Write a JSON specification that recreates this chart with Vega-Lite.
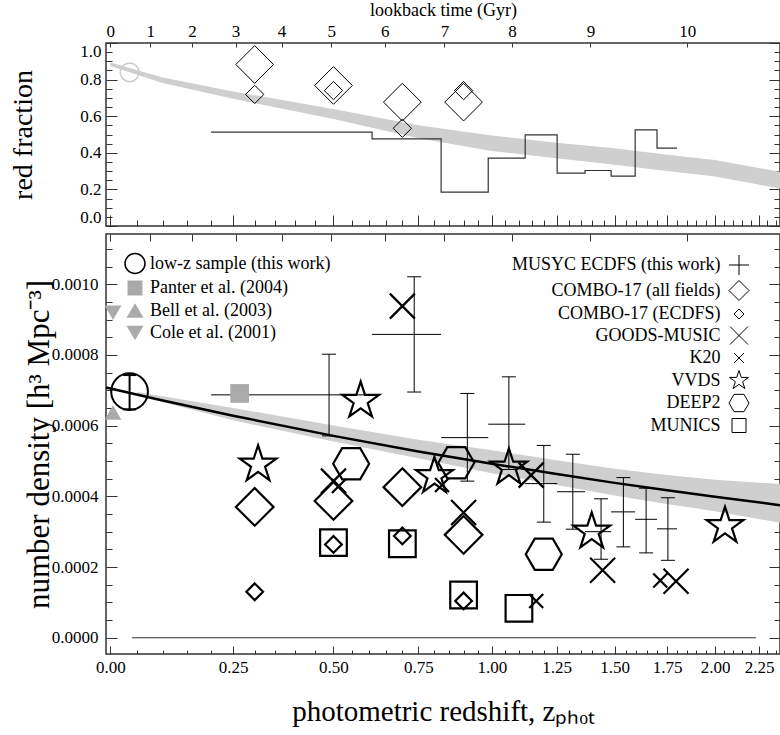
{
  "$schema": "https://vega.github.io/schema/vega-lite/v6.json",
  "background": "white",
  "padding": {"left": 8, "top": 0, "right": 0, "bottom": 0},
  "bounds": "flush",
  "spacing": 8,
  "resolve": {
    "scale": {"shape": "independent", "size": "independent", "fill": "independent", "stroke": "independent"},
    "legend": {"shape": "independent", "fill": "independent", "stroke": "independent"}
  },
  "config": {
    "font": "Liberation Serif",
    "view": {"stroke": "#333333", "strokeWidth": 1.5},
    "axis": {"domain": false, "grid": false, "labelFont": "Liberation Serif", "labelFontSize": 17, "labelColor": "#000000", "tickColor": "#333333", "tickWidth": 1, "titleFont": "Liberation Serif", "titleFontWeight": "normal", "titleColor": "#000000", "labelFlush": false},
    "legend": {"labelFont": "Liberation Serif", "labelFontSize": 18, "labelColor": "#000000", "labelLimit": 400, "symbolSize": 400, "symbolStrokeWidth": 1, "padding": 0, "offset": 0, "rowPadding": 0.5, "titlePadding": 0}
  },
  "datasets": {
    "top_band": [
      {"z": 0, "lo": 0.875, "hi": 0.893},
      {"z": 0.1, "lo": 0.782, "hi": 0.812},
      {"z": 0.25, "lo": 0.695, "hi": 0.735},
      {"z": 0.5, "lo": 0.585, "hi": 0.64},
      {"z": 0.75, "lo": 0.48, "hi": 0.55},
      {"z": 1.0, "lo": 0.41, "hi": 0.495},
      {"z": 1.25, "lo": 0.37, "hi": 0.455},
      {"z": 1.5, "lo": 0.335, "hi": 0.425},
      {"z": 1.75, "lo": 0.3, "hi": 0.39},
      {"z": 2.0, "lo": 0.27, "hi": 0.36},
      {"z": 2.376, "lo": 0.205, "hi": 0.296}
    ],
    "top_step": [
      {"z": 0.201, "f": 0.5126},
      {"z": 0.609, "f": 0.4765},
      {"z": 0.824, "f": 0.1847},
      {"z": 0.987, "f": 0.3705},
      {"z": 1.125, "f": 0.4984},
      {"z": 1.252, "f": 0.2885},
      {"z": 1.369, "f": 0.3033},
      {"z": 1.484, "f": 0.2721},
      {"z": 1.595, "f": 0.5257},
      {"z": 1.7, "f": 0.4251},
      {"z": 1.8, "f": 0.4251}
    ],
    "top_lowz": [{"z": 0.0357, "f": 0.84}],
    "top_combo_all": [
      {"z": 0.3, "f": 0.8825}, {"z": 0.5, "f": 0.768}, {"z": 0.7, "f": 0.677}, {"z": 0.9, "f": 0.677}
    ],
    "top_combo_ecdfs": [
      {"z": 0.3, "f": 0.719}, {"z": 0.5, "f": 0.74}, {"z": 0.7, "f": 0.534}, {"z": 0.9, "f": 0.74}
    ],
    "bot_band": [
      {"z": 0.05, "lo": 0.000685, "hi": 0.000695},
      {"z": 0.25, "lo": 0.000615, "hi": 0.00065},
      {"z": 0.5, "lo": 0.000555, "hi": 0.0006},
      {"z": 0.75, "lo": 0.000508, "hi": 0.00056},
      {"z": 1.0, "lo": 0.000465, "hi": 0.00053},
      {"z": 1.25, "lo": 0.000432, "hi": 0.000502},
      {"z": 1.5, "lo": 0.000402, "hi": 0.000478},
      {"z": 1.75, "lo": 0.000378, "hi": 0.00046},
      {"z": 2.0, "lo": 0.000358, "hi": 0.000447},
      {"z": 2.376, "lo": 0.000325, "hi": 0.000435}
    ],
    "bot_fit": [
      {"z": -0.0078, "n": 0.000708},
      {"z": 0.1, "n": 0.000671},
      {"z": 0.25, "n": 0.000628},
      {"z": 0.5, "n": 0.000571},
      {"z": 0.75, "n": 0.000527},
      {"z": 1.0, "n": 0.000492},
      {"z": 1.25, "n": 0.000463},
      {"z": 1.5, "n": 0.000438},
      {"z": 1.75, "n": 0.000417},
      {"z": 2.0, "n": 0.000399},
      {"z": 2.376, "n": 0.000375}
    ],
    "bot_zero": [{"z1": 0.04, "z2": 2.232, "n": 0}],
    "musyc": [
      {"zlo": 0.201, "zhi": 0.63, "z": 0.488, "n": 0.000687, "lo": 0.000571, "hi": 0.000802},
      {"zlo": 0.609, "zhi": 0.824, "z": 0.737, "n": 0.000858, "lo": 0.000695, "hi": 0.001021},
      {"zlo": 0.824, "zhi": 0.987, "z": 0.913, "n": 0.000566, "lo": 0.000443, "hi": 0.000691},
      {"zlo": 0.987, "zhi": 1.125, "z": 1.063, "n": 0.000604, "lo": 0.000476, "hi": 0.000738},
      {"zlo": 1.125, "zhi": 1.252, "z": 1.198, "n": 0.000436, "lo": 0.000327, "hi": 0.000544},
      {"zlo": 1.252, "zhi": 1.369, "z": 1.317, "n": 0.000413, "lo": 0.000307, "hi": 0.000519},
      {"zlo": 1.369, "zhi": 1.484, "z": 1.439, "n": 0.0003, "lo": 0.000222, "hi": 0.000393},
      {"zlo": 1.484, "zhi": 1.595, "z": 1.54, "n": 0.000356, "lo": 0.000257, "hi": 0.000453},
      {"zlo": 1.595, "zhi": 1.7, "z": 1.647, "n": 0.000335, "lo": 0.00024, "hi": 0.000423},
      {"zlo": 1.7, "zhi": 1.8, "z": 1.754, "n": 0.000308, "lo": 0.000219, "hi": 0.000396}
    ],
    "lowz_err": [{"z": 0.0357, "lo": 0.000646, "hi": 0.000743}],
    "left_pts": [
      {"survey": "low-z sample (this work)", "z": 0.0357, "n": 0.000696},
      {"survey": "Panter et al. (2004)", "z": 0.265, "n": 0.000691},
      {"survey": "Bell et al. (2003)", "z": 0.005, "n": 0.000637},
      {"survey": "Cole et al. (2001)", "z": 0.005, "n": 0.000919}
    ],
    "right_pts": [
      {"survey": "COMBO-17 (all fields)", "z": 0.3, "n": 0.00037},
      {"survey": "COMBO-17 (all fields)", "z": 0.5, "n": 0.000387},
      {"survey": "COMBO-17 (all fields)", "z": 0.7, "n": 0.000426},
      {"survey": "COMBO-17 (all fields)", "z": 0.9, "n": 0.000291},
      {"survey": "COMBO-17 (ECDFS)", "z": 0.3, "n": 0.00013},
      {"survey": "COMBO-17 (ECDFS)", "z": 0.5, "n": 0.000264},
      {"survey": "COMBO-17 (ECDFS)", "z": 0.7, "n": 0.000288},
      {"survey": "COMBO-17 (ECDFS)", "z": 0.9, "n": 0.000104},
      {"survey": "GOODS-MUSIC", "z": 0.7, "n": 0.000938},
      {"survey": "GOODS-MUSIC", "z": 0.5, "n": 0.000443},
      {"survey": "GOODS-MUSIC", "z": 0.9, "n": 0.000354},
      {"survey": "GOODS-MUSIC", "z": 1.148, "n": 0.00046},
      {"survey": "GOODS-MUSIC", "z": 1.446, "n": 0.000191},
      {"survey": "GOODS-MUSIC", "z": 1.795, "n": 0.00016},
      {"survey": "K20", "z": 0.515, "n": 0.000429},
      {"survey": "K20", "z": 0.827, "n": 0.000432},
      {"survey": "K20", "z": 1.168, "n": 0.000104},
      {"survey": "K20", "z": 1.716, "n": 0.000162},
      {"survey": "VVDS", "z": 0.576, "n": 0.00067},
      {"survey": "VVDS", "z": 0.308, "n": 0.00049},
      {"survey": "VVDS", "z": 0.802, "n": 0.000457},
      {"survey": "VVDS", "z": 1.063, "n": 0.000481},
      {"survey": "VVDS", "z": 1.398, "n": 0.0003},
      {"survey": "VVDS", "z": 2.055, "n": 0.000316},
      {"survey": "DEEP2", "z": 0.549, "n": 0.000492},
      {"survey": "DEEP2", "z": 0.875, "n": 0.000495},
      {"survey": "DEEP2", "z": 1.198, "n": 0.000236},
      {"survey": "MUNICS", "z": 0.5, "n": 0.000269},
      {"survey": "MUNICS", "z": 0.7, "n": 0.000266},
      {"survey": "MUNICS", "z": 0.9, "n": 0.000121},
      {"survey": "MUNICS", "z": 1.101, "n": 0.0000832}
    ]
  },
  "vconcat": [
    {
      "width": 674,
      "height": 183,
      "layer": [
        {
          "data": {"name": "top_band"},
          "mark": {"type": "area", "color": "#cfcfcf", "opacity": 1},
          "encoding": {
            "x": {"field": "z", "type": "quantitative", "scale": {"type": "symlog", "domain": [-0.0078, 2.376], "nice": false, "zero": false},
              "axis": {"orient": "bottom", "values": [0, 0.25, 0.5, 0.75, 1, 1.25, 1.5, 1.75, 2, 2.25], "labels": false, "tickSize": -11, "title": null}},
            "y": {"field": "lo", "type": "quantitative", "scale": {"domain": [0, 1], "nice": false, "zero": false},
              "axis": {"orient": "left", "values": [0, 0.2, 0.4, 0.6, 0.8, 1], "format": ".1f", "tickSize": -11, "labelPadding": 16, "labelFlush": true, "title": "red fraction", "titleFontSize": 28, "titleX": -83, "titleY": 91.5, "titleAngle": 270, "titleAlign": "center", "titleBaseline": "middle"}},
            "y2": {"field": "hi"}
          }
        },
        {
          "data": {"name": "top_step"},
          "mark": {"type": "line", "interpolate": "step-after", "color": "#333333", "strokeWidth": 1.2},
          "encoding": {
            "x": {"field": "z", "type": "quantitative", "scale": {"type": "symlog", "domain": [-0.0078, 2.376], "nice": false, "zero": false},
              "axis": {"orient": "bottom", "values": [0.05, 0.1, 0.15, 0.2, 0.3, 0.35, 0.4, 0.45, 0.55, 0.6, 0.65, 0.7, 0.8, 0.85, 0.9, 0.95, 1.05, 1.1, 1.15, 1.2, 1.3, 1.35, 1.4, 1.45, 1.55, 1.6, 1.65, 1.7, 1.8, 1.85, 1.9, 1.95, 2.05, 2.1, 2.15, 2.2, 2.3, 2.35], "labels": false, "tickSize": -6, "title": null}},
            "y": {"field": "f", "type": "quantitative", "scale": {"domain": [0, 1], "nice": false, "zero": false},
              "axis": {"orient": "left", "values": [0.05, 0.1, 0.15, 0.25, 0.3, 0.35, 0.45, 0.5, 0.55, 0.65, 0.7, 0.75, 0.85, 0.9, 0.95], "labels": false, "tickSize": -6, "title": null}}
          }
        },
        {
          "data": {"name": "top_lowz"},
          "mark": {"type": "point", "shape": "circle", "size": 350, "filled": false, "color": "#cccccc", "strokeWidth": 1.5, "opacity": 1},
          "encoding": {
            "x": {"field": "z", "type": "quantitative", "scale": {"type": "symlog", "domain": [-0.0078, 2.376], "nice": false, "zero": false},
              "axis": {"orient": "top", "values": [0, 0.0754, 0.1603, 0.2557, 0.365, 0.4941, 0.6467, 0.8349, 1.0744, 1.3924, 1.852], "labelExpr": "['0','1','2','3','4','5','6','7','8','9','10'][indexof([0,0.0754,0.1603,0.2557,0.365,0.4941,0.6467,0.8349,1.0744,1.3924,1.852], datum.value)]", "tickSize": -4, "labelPadding": 10.5, "labelBaseline": "alphabetic", "title": "lookback time (Gyr)", "titleFontSize": 18, "titleX": 337, "titleY": -33, "titleAlign": "center", "titleBaseline": "middle"}},
            "y": {"field": "f", "type": "quantitative", "scale": {"domain": [0, 1], "nice": false, "zero": false},
              "axis": {"orient": "right", "values": [0, 0.2, 0.4, 0.6, 0.8, 1], "labels": false, "tickSize": -11, "title": null}}
          }
        },
        {
          "data": {"name": "top_combo_all"},
          "mark": {"type": "point", "shape": "diamond", "size": 1421, "filled": false, "color": "#000000", "strokeWidth": 1, "opacity": 1},
          "encoding": {
            "x": {"field": "z", "type": "quantitative", "scale": {"type": "symlog", "domain": [-0.0078, 2.376], "nice": false, "zero": false}, "axis": null},
            "y": {"field": "f", "type": "quantitative", "scale": {"domain": [0, 1], "nice": false, "zero": false},
              "axis": {"orient": "right", "values": [0.05, 0.1, 0.15, 0.25, 0.3, 0.35, 0.45, 0.5, 0.55, 0.65, 0.7, 0.75, 0.85, 0.9, 0.95], "labels": false, "tickSize": -6, "title": null}}
          }
        },
        {
          "data": {"name": "top_combo_ecdfs"},
          "mark": {"type": "point", "shape": "diamond", "size": 335, "filled": false, "color": "#000000", "strokeWidth": 1, "opacity": 1},
          "encoding": {
            "x": {"field": "z", "type": "quantitative", "scale": {"type": "symlog", "domain": [-0.0078, 2.376], "nice": false, "zero": false}, "axis": null},
            "y": {"field": "f", "type": "quantitative", "scale": {"domain": [0, 1], "nice": false, "zero": false}, "axis": null}
          }
        }
      ],
      "resolve": {"axis": {"x": "independent", "y": "independent"}}
    },
    {
      "width": 674,
      "height": 420,
      "layer": [
        {
          "data": {"name": "bot_band"},
          "mark": {"type": "area", "color": "#cfcfcf", "opacity": 1},
          "encoding": {
            "x": {"field": "z", "type": "quantitative", "scale": {"type": "symlog", "domain": [-0.0078, 2.376], "nice": false, "zero": false},
              "axis": {"orient": "bottom", "values": [0, 0.25, 0.5, 0.75, 1, 1.25, 1.5, 1.75, 2, 2.25], "format": ".2f", "tickSize": -8, "labelPadding": 26.5, "labelBaseline": "alphabetic", "title": "photometric redshift, zₚₕₒₜ", "titleFontSize": 29, "titleX": 337, "titleY": 57, "titleAlign": "center", "titleBaseline": "middle"}},
            "y": {"field": "lo", "type": "quantitative", "scale": {"domain": [-0.000046, 0.001142], "nice": false, "zero": false},
              "axis": {"orient": "left", "values": [0, 0.0002, 0.0004, 0.0006, 0.0008, 0.001], "format": ".4f", "tickSize": -11, "labelPadding": 19, "title": "number density [h³ Mpc⁻³]", "titleFontSize": 31, "titleX": -67, "titleY": 210, "titleAngle": 270, "titleAlign": "center", "titleBaseline": "middle"}},
            "y2": {"field": "hi"}
          }
        },
        {
          "data": {"name": "bot_fit"},
          "mark": {"type": "line", "color": "#000000", "strokeWidth": 2.5},
          "encoding": {
            "x": {"field": "z", "type": "quantitative", "scale": {"type": "symlog", "domain": [-0.0078, 2.376], "nice": false, "zero": false},
              "axis": {"orient": "bottom", "values": [0.05, 0.1, 0.15, 0.2, 0.3, 0.35, 0.4, 0.45, 0.55, 0.6, 0.65, 0.7, 0.8, 0.85, 0.9, 0.95, 1.05, 1.1, 1.15, 1.2, 1.3, 1.35, 1.4, 1.45, 1.55, 1.6, 1.65, 1.7, 1.8, 1.85, 1.9, 1.95, 2.05, 2.1, 2.15, 2.2, 2.3, 2.35], "labels": false, "tickSize": -4, "title": null}},
            "y": {"field": "n", "type": "quantitative", "scale": {"domain": [-0.000046, 0.001142], "nice": false, "zero": false},
              "axis": {"orient": "left", "values": [0.00005, 0.0001, 0.00015, 0.00025, 0.0003, 0.00035, 0.00045, 0.0005, 0.00055, 0.00065, 0.0007, 0.00075, 0.00085, 0.0009, 0.00095, 0.00105, 0.0011], "labels": false, "tickSize": -6, "title": null}}
          }
        },
        {
          "data": {"name": "bot_zero"},
          "mark": {"type": "rule", "color": "#333333", "strokeWidth": 1.2},
          "encoding": {
            "x": {"field": "z1", "type": "quantitative", "scale": {"type": "symlog", "domain": [-0.0078, 2.376], "nice": false, "zero": false},
              "axis": {"orient": "top", "values": [0, 0.0754, 0.1603, 0.2557, 0.365, 0.4941, 0.6467, 0.8349, 1.0744, 1.3924, 1.852], "labels": false, "tickSize": -7, "title": null}},
            "x2": {"field": "z2"},
            "y": {"field": "n", "type": "quantitative", "scale": {"domain": [-0.000046, 0.001142], "nice": false, "zero": false},
              "axis": {"orient": "right", "values": [0, 0.0002, 0.0004, 0.0006, 0.0008, 0.001], "labels": false, "tickSize": -11, "title": null}}
          }
        },
        {
          "data": {"name": "musyc"},
          "mark": {"type": "rule", "color": "#000000", "strokeWidth": 1},
          "encoding": {
            "x": {"field": "zlo", "type": "quantitative", "scale": {"type": "symlog", "domain": [-0.0078, 2.376], "nice": false, "zero": false}, "axis": null},
            "x2": {"field": "zhi"},
            "y": {"field": "n", "type": "quantitative", "scale": {"domain": [-0.000046, 0.001142], "nice": false, "zero": false},
              "axis": {"orient": "right", "values": [0.00005, 0.0001, 0.00015, 0.00025, 0.0003, 0.00035, 0.00045, 0.0005, 0.00055, 0.00065, 0.0007, 0.00075, 0.00085, 0.0009, 0.00095, 0.00105, 0.0011], "labels": false, "tickSize": -6, "title": null}}
          }
        },
        {
          "data": {"name": "musyc"},
          "mark": {"type": "rule", "color": "#000000", "strokeWidth": 1},
          "encoding": {
            "x": {"field": "z", "type": "quantitative", "scale": {"type": "symlog", "domain": [-0.0078, 2.376], "nice": false, "zero": false}, "axis": null},
            "y": {"field": "lo", "type": "quantitative", "scale": {"domain": [-0.000046, 0.001142], "nice": false, "zero": false}, "axis": null},
            "y2": {"field": "hi"}
          }
        },
        {
          "data": {"name": "musyc"},
          "mark": {"type": "tick", "orient": "horizontal", "size": 14, "thickness": 1, "color": "#000000", "opacity": 1},
          "encoding": {
            "x": {"field": "z", "type": "quantitative", "scale": {"type": "symlog", "domain": [-0.0078, 2.376], "nice": false, "zero": false}, "axis": null},
            "y": {"field": "lo", "type": "quantitative", "scale": {"domain": [-0.000046, 0.001142], "nice": false, "zero": false}, "axis": null}
          }
        },
        {
          "data": {"name": "musyc"},
          "mark": {"type": "tick", "orient": "horizontal", "size": 14, "thickness": 1, "color": "#000000", "opacity": 1},
          "encoding": {
            "x": {"field": "z", "type": "quantitative", "scale": {"type": "symlog", "domain": [-0.0078, 2.376], "nice": false, "zero": false}, "axis": null},
            "y": {"field": "hi", "type": "quantitative", "scale": {"domain": [-0.000046, 0.001142], "nice": false, "zero": false}, "axis": null}
          }
        },
        {
          "data": {"name": "lowz_err"},
          "mark": {"type": "rule", "color": "#000000", "strokeWidth": 2},
          "encoding": {
            "x": {"field": "z", "type": "quantitative", "scale": {"type": "symlog", "domain": [-0.0078, 2.376], "nice": false, "zero": false}, "axis": null},
            "y": {"field": "lo", "type": "quantitative", "scale": {"domain": [-0.000046, 0.001142], "nice": false, "zero": false}, "axis": null},
            "y2": {"field": "hi"}
          }
        },
        {
          "data": {"name": "lowz_err"},
          "mark": {"type": "tick", "orient": "horizontal", "size": 13, "thickness": 2, "color": "#000000", "opacity": 1},
          "encoding": {
            "x": {"field": "z", "type": "quantitative", "scale": {"type": "symlog", "domain": [-0.0078, 2.376], "nice": false, "zero": false}, "axis": null},
            "y": {"field": "lo", "type": "quantitative", "scale": {"domain": [-0.000046, 0.001142], "nice": false, "zero": false}, "axis": null}
          }
        },
        {
          "data": {"name": "lowz_err"},
          "mark": {"type": "tick", "orient": "horizontal", "size": 13, "thickness": 2, "color": "#000000", "opacity": 1},
          "encoding": {
            "x": {"field": "z", "type": "quantitative", "scale": {"type": "symlog", "domain": [-0.0078, 2.376], "nice": false, "zero": false}, "axis": null},
            "y": {"field": "hi", "type": "quantitative", "scale": {"domain": [-0.000046, 0.001142], "nice": false, "zero": false}, "axis": null}
          }
        },
        {
          "data": {"name": "left_pts"},
          "mark": {"type": "point", "filled": true, "opacity": 1},
          "encoding": {
            "x": {"field": "z", "type": "quantitative", "scale": {"type": "symlog", "domain": [-0.0078, 2.376], "nice": false, "zero": false}, "axis": null},
            "y": {"field": "n", "type": "quantitative", "scale": {"domain": [-0.000046, 0.001142], "nice": false, "zero": false}, "axis": null},
            "shape": {"field": "survey", "type": "nominal",
              "scale": {"domain": ["low-z sample (this work)", "Panter et al. (2004)", "Bell et al. (2003)", "Cole et al. (2001)"], "range": ["circle", "M-0.75,-0.75L0.75,-0.75L0.75,0.75L-0.75,0.75Z", "M0,-0.736L0.85,0.736L-0.85,0.736Z", "M0,0.736L0.85,-0.736L-0.85,-0.736Z"]},
              "legend": {"orient": "none", "legendX": 18, "legendY": 18.5, "direction": "vertical", "title": null, "symbolSize": 400, "labelOffset": 4, "symbolStrokeWidth": 1.5}},
            "fill": {"field": "survey", "type": "nominal",
              "scale": {"domain": ["low-z sample (this work)", "Panter et al. (2004)", "Bell et al. (2003)", "Cole et al. (2001)"], "range": ["transparent", "#aaaaaa", "#aaaaaa", "#aaaaaa"]}},
            "stroke": {"field": "survey", "type": "nominal",
              "scale": {"domain": ["low-z sample (this work)", "Panter et al. (2004)", "Bell et al. (2003)", "Cole et al. (2001)"], "range": ["#000000", "transparent", "transparent", "transparent"]}},
            "size": {"field": "survey", "type": "nominal",
              "scale": {"type": "ordinal", "domain": ["Cole et al. (2001)", "Bell et al. (2003)", "Panter et al. (2004)", "low-z sample (this work)"], "range": [385, 385, 622, 1347]}, "legend": null},
            "strokeWidth": {"value": 2}
          }
        },
        {
          "data": {"name": "right_pts"},
          "mark": {"type": "point", "filled": false, "color": "#000000", "opacity": 1},
          "encoding": {
            "x": {"field": "z", "type": "quantitative", "scale": {"type": "symlog", "domain": [-0.0078, 2.376], "nice": false, "zero": false}, "axis": null},
            "y": {"field": "n", "type": "quantitative", "scale": {"domain": [-0.000046, 0.001142], "nice": false, "zero": false}, "axis": null},
            "shape": {"field": "survey", "type": "nominal",
              "scale": {"domain": ["MUSYC ECDFS (this work)", "COMBO-17 (all fields)", "COMBO-17 (ECDFS)", "GOODS-MUSIC", "K20", "VVDS", "DEEP2", "MUNICS"],
                "range": ["M-1,0L1,0M0,-1L0,1", "M0,-1L1,0L0,1L-1,0Z", "M0,-0.5L0.5,0L0,0.5L-0.5,0Z", "M-0.9,-0.9L0.9,0.9M-0.9,0.9L0.9,-0.9", "M-0.5,-0.5L0.5,0.5M-0.5,0.5L0.5,-0.5", "M0,-1L0.2245,-0.309L0.9511,-0.309L0.3633,0.118L0.5878,0.809L0,0.382L-0.5878,0.809L-0.3633,0.118L-0.9511,-0.309L-0.2245,-0.309Z", "M-1,0L-0.5,-0.866L0.5,-0.866L1,0L0.5,0.866L-0.5,0.866Z", "M-0.7,-0.7L0.7,-0.7L0.7,0.7L-0.7,0.7Z"]},
              "legend": {"orient": "none", "legendX": 622.5, "legendY": 20.5, "direction": "vertical", "title": null, "symbolSize": 400, "labelAlign": "right", "labelOffset": -29, "symbolStrokeWidth": 1}},
            "size": {"field": "survey", "type": "nominal",
              "scale": {"type": "ordinal", "domain": ["MUNICS", "DEEP2", "VVDS", "K20", "GOODS-MUSIC", "COMBO-17 (ECDFS)", "COMBO-17 (all fields)", "MUSYC ECDFS (this work)"], "range": [1452, 1296, 1490, 784, 772, 1115, 1421, 400]}, "legend": null},
            "strokeWidth": {"value": 2.2}
          }
        }
      ],
      "resolve": {
        "axis": {"x": "independent", "y": "independent"},
        "scale": {"shape": "independent", "size": "independent", "fill": "independent", "stroke": "independent"},
        "legend": {"shape": "independent", "fill": "independent", "stroke": "independent"}
      }
    }
  ]
}
